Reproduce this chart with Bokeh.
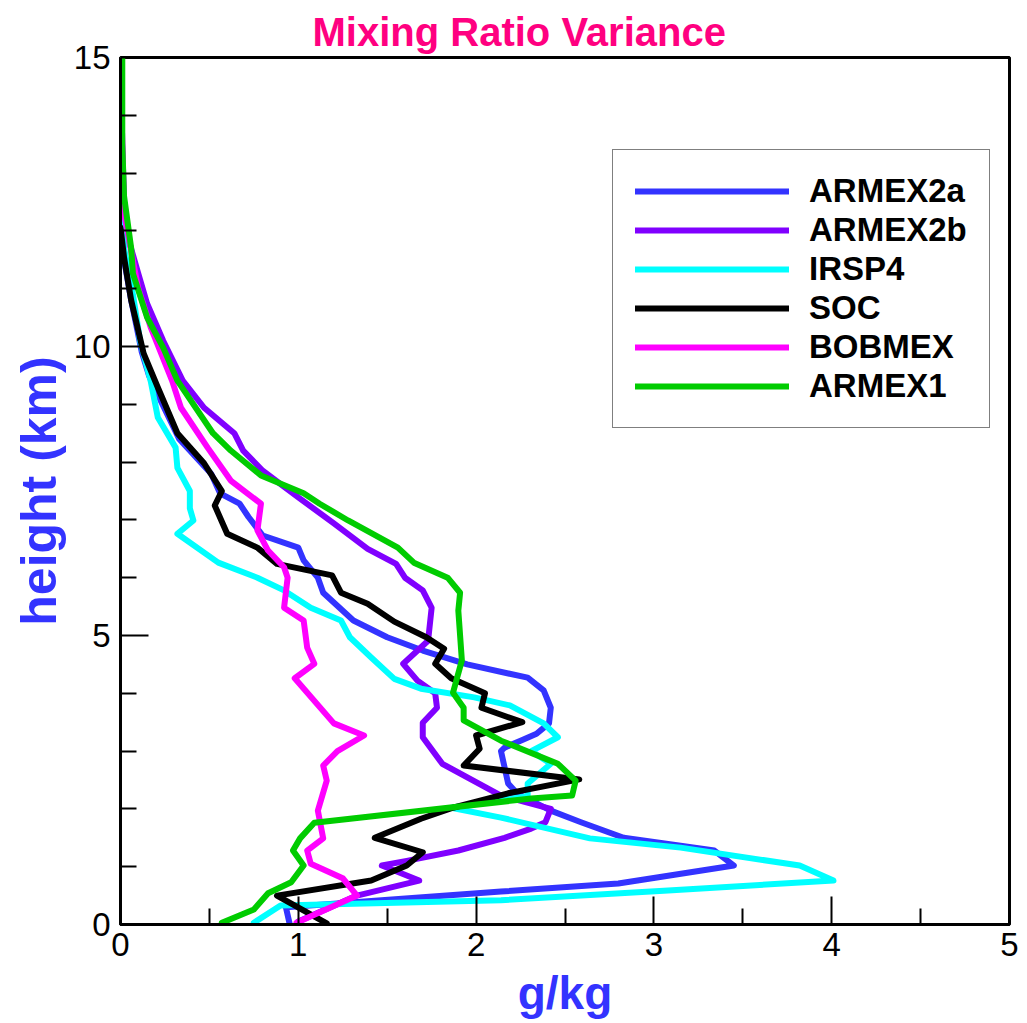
from bokeh.plotting import figure
from bokeh.models import Legend, LegendItem, FixedTicker, Range1d
from bokeh.embed import file_html
from bokeh.resources import INLINE

# ---- data (g/kg vs height km) ----
armex2a_x = [0.95, 0.93, 2.14, 2.80, 3.45, 3.34, 2.83, 2.59, 2.42, 2.23, 2.18, 2.14, 2.16, 2.25, 2.34, 2.41, 2.42, 2.38, 2.29, 1.95, 1.70, 1.50, 1.31, 1.14, 1.11, 1.03, 1.00, 0.80, 0.72, 0.67, 0.56, 0.51, 0.33, 0.22, 0.16, 0.12, 0.06, 0.02, 0.01, 0.01, 0.00, 0.00]
armex2a_y = [0.03, 0.30, 0.57, 0.71, 1.02, 1.28, 1.50, 1.77, 1.97, 2.27, 2.44, 3.00, 3.06, 3.18, 3.30, 3.48, 3.75, 4.05, 4.27, 4.50, 4.74, 4.97, 5.26, 5.74, 6.00, 6.30, 6.52, 6.73, 7.05, 7.28, 7.46, 7.80, 8.40, 9.10, 9.50, 9.90, 10.80, 11.50, 12.20, 13.00, 14.00, 15.00]

armex2b_x = [1.00, 1.33, 1.68, 1.47, 1.61, 1.90, 2.16, 2.31, 2.39, 2.42, 2.14, 1.81, 1.70, 1.70, 1.78, 1.77, 1.67, 1.59, 1.73, 1.75, 1.70, 1.60, 1.55, 1.39, 1.20, 1.00, 0.80, 0.69, 0.64, 0.47, 0.35, 0.24, 0.15, 0.10, 0.05, 0.02, 0.01, 0.00]
armex2b_y = [0.05, 0.50, 0.76, 1.02, 1.10, 1.28, 1.50, 1.66, 1.77, 2.00, 2.23, 2.78, 3.24, 3.49, 3.75, 4.00, 4.22, 4.51, 4.91, 5.48, 5.78, 6.00, 6.24, 6.50, 6.94, 7.39, 7.85, 8.20, 8.50, 8.94, 9.41, 10.10, 10.74, 11.26, 11.80, 12.50, 13.50, 15.00]

irsp4_x = [0.75, 0.90, 2.14, 3.08, 4.01, 3.82, 3.15, 2.64, 2.14, 1.86, 2.29, 2.29, 2.42, 2.31, 2.46, 2.38, 2.19, 1.99, 1.69, 1.54, 1.41, 1.29, 1.24, 1.07, 0.92, 0.77, 0.55, 0.32, 0.41, 0.39, 0.39, 0.32, 0.31, 0.21, 0.17, 0.11, 0.07, 0.02, 0.01, 0.00]
irsp4_y = [0.03, 0.33, 0.42, 0.59, 0.76, 1.02, 1.33, 1.49, 1.85, 2.02, 2.22, 2.44, 2.78, 3.00, 3.24, 3.48, 3.79, 3.93, 4.08, 4.25, 4.62, 4.97, 5.26, 5.48, 5.78, 6.00, 6.26, 6.76, 6.99, 7.20, 7.50, 7.90, 8.25, 8.77, 9.40, 10.10, 10.90, 11.70, 12.50, 15.00]

soc_x = [1.16, 0.88, 1.41, 1.61, 1.70, 1.43, 1.69, 1.87, 2.18, 2.58, 1.93, 2.02, 2.00, 2.26, 2.03, 2.05, 1.86, 1.77, 1.82, 1.72, 1.54, 1.39, 1.24, 1.19, 0.88, 0.77, 0.60, 0.53, 0.57, 0.47, 0.32, 0.21, 0.13, 0.06, 0.02, 0.00]
soc_y = [0.02, 0.50, 0.76, 1.02, 1.25, 1.50, 1.83, 2.02, 2.27, 2.51, 2.75, 3.04, 3.27, 3.50, 3.75, 4.00, 4.26, 4.51, 4.77, 4.97, 5.24, 5.55, 5.74, 6.04, 6.24, 6.52, 6.76, 7.25, 7.50, 7.98, 8.50, 9.29, 9.88, 10.80, 11.54, 12.06]

bobmex_x = [0.99, 1.33, 1.25, 1.07, 1.05, 1.14, 1.11, 1.16, 1.14, 1.22, 1.37, 1.20, 0.98, 1.09, 1.05, 1.03, 0.92, 0.94, 0.92, 0.83, 0.77, 0.79, 0.62, 0.49, 0.34, 0.29, 0.17, 0.10, 0.02, 0.01, 0.00]
bobmex_y = [0.03, 0.50, 0.80, 1.05, 1.28, 1.49, 1.97, 2.49, 2.75, 3.00, 3.27, 3.48, 4.26, 4.51, 4.79, 5.26, 5.48, 6.00, 6.18, 6.47, 6.82, 7.28, 7.68, 8.25, 8.94, 9.41, 10.33, 11.00, 12.30, 13.50, 15.00]

armex1_x = [0.57, 0.75, 0.83, 0.96, 1.03, 0.97, 1.01, 1.09, 2.31, 2.54, 2.56, 2.46, 2.14, 1.93, 1.93, 1.87, 1.92, 1.90, 1.91, 1.84, 1.65, 1.56, 1.28, 1.12, 1.03, 0.79, 0.62, 0.52, 0.32, 0.24, 0.15, 0.07, 0.06, 0.02, 0.01, 0.01]
armex1_y = [0.03, 0.26, 0.54, 0.73, 1.02, 1.28, 1.49, 1.76, 2.18, 2.23, 2.49, 2.78, 3.18, 3.53, 3.75, 4.01, 4.57, 5.43, 5.74, 6.00, 6.26, 6.52, 6.99, 7.28, 7.46, 7.77, 8.20, 8.50, 9.41, 9.98, 10.50, 11.26, 11.70, 12.60, 13.50, 15.00]

series_names = ["ARMEX2a", "ARMEX2b", "IRSP4", "SOC", "BOBMEX", "ARMEX1"]
series_x = [armex2a_x, armex2b_x, irsp4_x, soc_x, bobmex_x, armex1_x]
series_y = [armex2a_y, armex2b_y, irsp4_y, soc_y, bobmex_y, armex1_y]
colors = ["#3333ff", "#8000ff", "#00ffff", "#000000", "#ff00ff", "#00cc00"]

x_ticks = [0, 1, 2, 3, 4, 5]
y_ticks = [0, 5, 10, 15]

FONT = "Liberation Sans"

p = figure(width=1027, height=1023, output_backend="svg", toolbar_location=None,
           x_range=Range1d(0, 5), y_range=Range1d(0, 15),
           min_border_left=120, min_border_right=18, min_border_top=57, min_border_bottom=99)

p.title.text = "Mixing Ratio Variance"
p.title.text_font = FONT
p.title.text_font_size = "40px"
p.title.text_font_style = "bold"
p.title.text_color = "#ff0080"
p.title.align = "left"
p.title.offset = 192
p.title.standoff = 8

p.grid.visible = False
p.outline_line_color = "black"
p.outline_line_width = 3
p.background_fill_color = "white"
p.border_fill_color = "white"

items = []
for name, xs, ys, c in zip(series_names, series_x, series_y, colors):
    r = p.line(xs, ys, line_color=c, line_width=6, line_join="round", line_cap="round")
    items.append(LegendItem(label=name, renderers=[r]))

legend = Legend(items=items, location=(492, 496))
legend.label_text_font = FONT
legend.label_text_font_style = "bold"
legend.label_text_font_size = "33px"
legend.label_text_color = "black"
legend.glyph_width = 154
legend.glyph_height = 34
legend.label_height = 34
legend.spacing = 1
legend.label_standoff = 20
legend.padding = 22
legend.margin = 0
legend.border_line_color = "black"
legend.border_line_width = 1.5
legend.background_fill_color = "white"
legend.background_fill_alpha = 1.0
p.add_layout(legend, "center")

for ax in (p.xaxis[0], p.yaxis[0]):
    ax.axis_line_width = 3
    ax.axis_line_color = "black"
    ax.major_tick_in = 28
    ax.major_tick_out = 0
    ax.minor_tick_in = 16
    ax.minor_tick_out = 0
    ax.major_tick_line_width = 2
    ax.minor_tick_line_width = 2
    ax.major_label_text_font = FONT
    ax.major_label_text_font_size = "33px"
    ax.major_label_text_color = "black"
    ax.axis_label_text_font = FONT
    ax.axis_label_text_font_style = "bold"
    ax.axis_label_text_color = "#3333ff"

p.xaxis.axis_label_text_font_size = "46px"
p.yaxis.axis_label_text_font_size = "50px"
p.xaxis.ticker = FixedTicker(ticks=x_ticks, minor_ticks=[0.5, 1.5, 2.5, 3.5, 4.5])
p.yaxis.ticker = FixedTicker(ticks=y_ticks, minor_ticks=[1, 2, 3, 4, 6, 7, 8, 9, 11, 12, 13, 14])
p.xaxis.major_label_standoff = 8
p.yaxis.major_label_standoff = 10
p.xaxis.axis_label = "g/kg"
p.yaxis.axis_label = "height (km)"
p.xaxis.axis_label_standoff = 8
p.yaxis.axis_label_standoff = 4

open("out.html", "w").write(file_html(p, INLINE))
